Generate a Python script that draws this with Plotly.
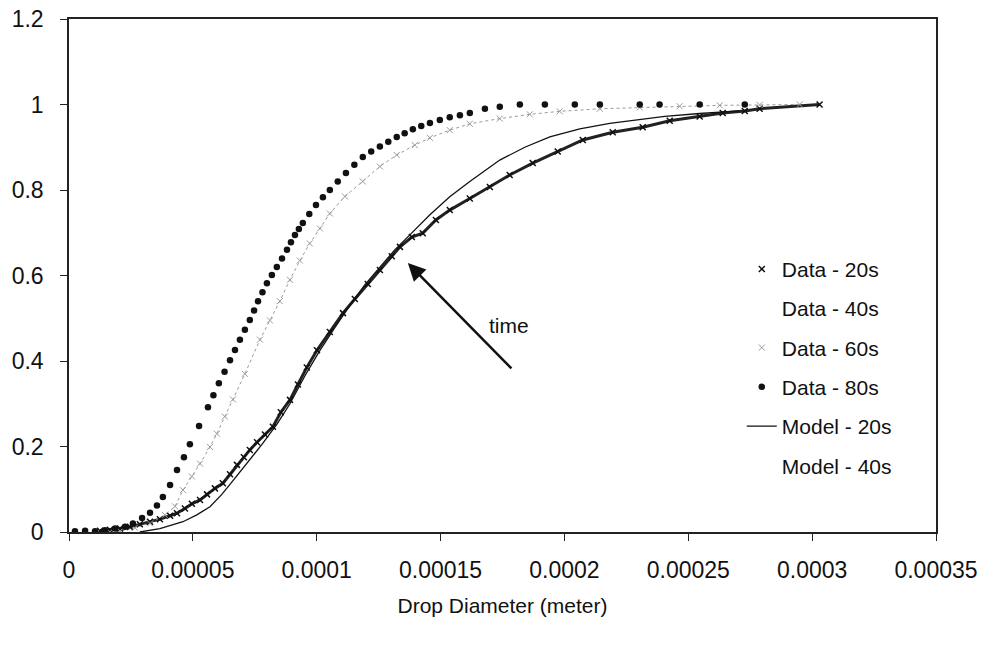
import plotly.graph_objects as go

# ---------------- data (diameter in micrometres, cumulative fraction) ----------------
d20_um = [12.5, 16.5, 20.6, 24.6, 28.6, 32.7, 36.7, 40.8, 43.6, 46.8, 49.6, 52.9, 55.7,
          58.9, 62.1, 65.0, 67.8, 70.6, 73.0, 75.9, 79.1, 82.3, 85.5, 89.2, 92.4, 96.0,
          100.1, 105.3, 110.6, 115.4, 120.6, 125.5, 130.3, 133.6, 138.4, 142.8, 148.1,
          153.7, 161.8, 169.9, 177.9, 187.2, 197.3, 207.4, 219.5, 231.6, 242.5, 254.6,
          263.9, 272.8, 278.8, 303.0]
f20 = [0.003, 0.005, 0.008, 0.012, 0.018, 0.024, 0.030, 0.038, 0.044, 0.055, 0.066, 0.075,
       0.088, 0.102, 0.114, 0.135, 0.157, 0.175, 0.192, 0.210, 0.228, 0.246, 0.280, 0.309,
       0.345, 0.385, 0.425, 0.468, 0.512, 0.545, 0.580, 0.613, 0.645, 0.667, 0.690, 0.699,
       0.730, 0.753, 0.780, 0.807, 0.835, 0.863, 0.890, 0.917, 0.935, 0.947, 0.962, 0.972,
       0.980, 0.985, 0.990, 1.000]

d40_um = [45.0, 60.0, 75.0, 90.0, 110.0, 130.0, 150.0, 180.0, 220.0, 260.0]
f40 = [0.05, 0.14, 0.30, 0.48, 0.66, 0.80, 0.88, 0.94, 0.98, 0.995]

d60_um = [16.5, 20.6, 26.6, 32.7, 38.7, 42.8, 46.0, 49.6, 52.9, 56.9, 59.7, 62.9, 66.2,
          71.0, 77.1, 81.1, 85.1, 89.2, 93.2, 97.2, 101.3, 105.3, 111.4, 118.6, 125.5,
          132.3, 139.6, 145.7, 153.7, 161.8, 173.9, 186.0, 198.1, 214.3, 230.4, 246.5,
          262.7, 278.8, 295.0]
f60 = [0.000, 0.002, 0.010, 0.020, 0.040, 0.060, 0.098, 0.130, 0.160, 0.199, 0.230, 0.270,
       0.310, 0.370, 0.450, 0.495, 0.540, 0.590, 0.635, 0.675, 0.710, 0.745, 0.785, 0.820,
       0.855, 0.882, 0.905, 0.922, 0.940, 0.955, 0.967, 0.977, 0.984, 0.990, 0.993, 0.996,
       0.998, 0.999, 1.000]

d80_um = [2.4, 6.5, 10.5, 14.5, 18.6, 22.6, 25.8, 29.5, 32.7, 35.5, 37.9, 40.8, 43.6, 46.4,
          48.8, 52.5, 56.1, 58.3, 60.5, 62.8, 65.0, 67.0, 69.0, 71.0, 73.0, 74.7, 76.3,
          78.1, 79.9, 81.9, 83.9, 86.0, 88.0, 89.6, 91.2, 92.8, 94.4, 97.0, 99.7, 102.5,
          105.3, 108.5, 111.8, 115.2, 118.6, 122.0, 125.5, 128.9, 132.3, 135.5, 138.8,
          142.2, 145.7, 149.7, 153.7, 157.8, 161.8, 167.9, 173.9, 182.0, 192.1, 204.2,
          214.3, 230.4, 238.4, 254.6, 272.8]
f80 = [0.002, 0.003, 0.002, 0.004, 0.008, 0.012, 0.020, 0.033, 0.045, 0.062, 0.082, 0.110,
       0.145, 0.175, 0.205, 0.248, 0.292, 0.320, 0.348, 0.375, 0.402, 0.426, 0.450, 0.473,
       0.496, 0.518, 0.540, 0.561, 0.582, 0.601, 0.620, 0.640, 0.660, 0.678, 0.695, 0.709,
       0.723, 0.744, 0.765, 0.783, 0.800, 0.820, 0.840, 0.859, 0.877, 0.890, 0.902, 0.913,
       0.924, 0.933, 0.942, 0.950, 0.957, 0.964, 0.970, 0.975, 0.980, 0.990, 0.995, 1.000,
       1.000, 1.000, 1.000, 1.000, 1.000, 1.000, 1.000]

m20_um = [28.6, 36.7, 46.0, 51.6, 56.9, 61.7, 66.2, 71.8, 77.9, 83.9, 89.2, 95.2, 101.3,
          107.3, 113.4, 119.4, 125.5, 131.5, 137.6, 145.7, 153.7, 161.8, 173.9, 184.0,
          194.1, 206.2, 218.3, 227.6, 240.5, 254.6, 270.7]
mf20 = [0.000, 0.008, 0.024, 0.040, 0.059, 0.088, 0.120, 0.160, 0.205, 0.252, 0.300, 0.365,
        0.425, 0.478, 0.530, 0.578, 0.620, 0.660, 0.695, 0.742, 0.784, 0.820, 0.870, 0.900,
        0.924, 0.943, 0.956, 0.963, 0.972, 0.979, 0.985]

m40_um = [40.0, 60.0, 80.0, 100.0, 120.0, 150.0, 200.0, 250.0]
mf40 = [0.02, 0.12, 0.32, 0.55, 0.72, 0.88, 0.97, 0.99]

x_tick_vals = [0, 0.00005, 0.0001, 0.00015, 0.0002, 0.00025, 0.0003, 0.00035]
x_tick_text = ["0", "0.00005", "0.0001", "0.00015", "0.0002", "0.00025", "0.0003", "0.00035"]
y_tick_vals = [0, 0.2, 0.4, 0.6, 0.8, 1.0, 1.2]
y_tick_text = ["0", "0.2", "0.4", "0.6", "0.8", "1", "1.2"]


def m(arr):
    return [v * 1e-6 for v in arr]


FONT = "Liberation Sans, Arial, sans-serif"
fig = go.Figure()

# connector guides (not in legend) to mimic the dense marker bands
fig.add_trace(go.Scatter(x=m(d20_um), y=f20, mode="lines", showlegend=False, hoverinfo="skip",
                         line=dict(color="#222", width=3)))
fig.add_trace(go.Scatter(x=m(d60_um), y=f60, mode="lines", showlegend=False, hoverinfo="skip",
                         line=dict(color="#999", width=1, dash="dot")))

fig.add_trace(go.Scatter(x=m(d20_um), y=f20, mode="markers", name="Data - 20s", legendgroup="a",
                         marker=dict(symbol="x-thin", size=6, color="#111",
                                     line=dict(width=1.5, color="#111"))))
fig.add_trace(go.Scatter(x=m(d40_um), y=f40, mode="markers", name="Data - 40s", legendgroup="b",
                         marker=dict(symbol="circle", size=6, color="rgba(0,0,0,0)")))
fig.add_trace(go.Scatter(x=m(d60_um), y=f60, mode="markers", name="Data - 60s", legendgroup="c",
                         marker=dict(symbol="x-thin", size=6, color="#999",
                                     line=dict(width=1, color="#999"))))
fig.add_trace(go.Scatter(x=m(d80_um), y=f80, mode="markers", name="Data - 80s", legendgroup="d",
                         marker=dict(symbol="circle", size=6.5, color="#111")))
fig.add_trace(go.Scatter(x=m(m20_um), y=mf20, mode="lines", name="Model - 20s", legendgroup="e",
                         line=dict(color="#111", width=1.3)))
fig.add_trace(go.Scatter(x=m(m40_um), y=mf40, mode="lines", name="Model - 40s", legendgroup="f",
                         line=dict(color="rgba(0,0,0,0)", width=1.3)))

fig.add_annotation(x=136.8e-6, y=0.629, ax=179.2e-6, ay=0.379, xref="x", yref="y",
                   axref="x", ayref="y", text="", showarrow=True, arrowhead=2,
                   arrowsize=1.4, arrowwidth=2.5, arrowcolor="#111")
fig.add_annotation(x=177.5e-6, y=0.484, xref="x", yref="y", text="time", showarrow=False,
                   font=dict(size=21, color="#111", family=FONT))

fig.update_layout(
    width=990, height=646,
    margin=dict(l=69, r=54, t=19, b=114),
    paper_bgcolor="white", plot_bgcolor="white",
    font=dict(family=FONT, size=23, color="#111"),
    showlegend=True,
    legend=dict(x=0.776, y=0.552, xanchor="left", yanchor="top",
                bgcolor="rgba(0,0,0,0)", font=dict(size=21, family=FONT),
                traceorder="grouped", tracegroupgap=9, itemwidth=30),
    xaxis=dict(range=[0, 0.00035], tickvals=x_tick_vals, ticktext=x_tick_text,
               automargin=False,
               showgrid=False, zeroline=False, showline=True, linecolor="#222", linewidth=1.5,
               mirror=True, ticks="outside", ticklen=7, tickcolor="#222",
               ticklabelstandoff=10,
               tickfont=dict(size=23, family=FONT),
               title=dict(text="Drop Diameter (meter)", standoff=16,
                          font=dict(size=21, family=FONT))),
    yaxis=dict(range=[0, 1.2], tickvals=y_tick_vals, ticktext=y_tick_text,
               automargin=False,
               showgrid=False, zeroline=False, showline=True, linecolor="#222", linewidth=1.5,
               mirror=True, ticks="outside", ticklen=7, tickcolor="#222",
               ticklabelstandoff=12,
               tickfont=dict(size=23, family=FONT)),
)

fig.write_html("out.html")
